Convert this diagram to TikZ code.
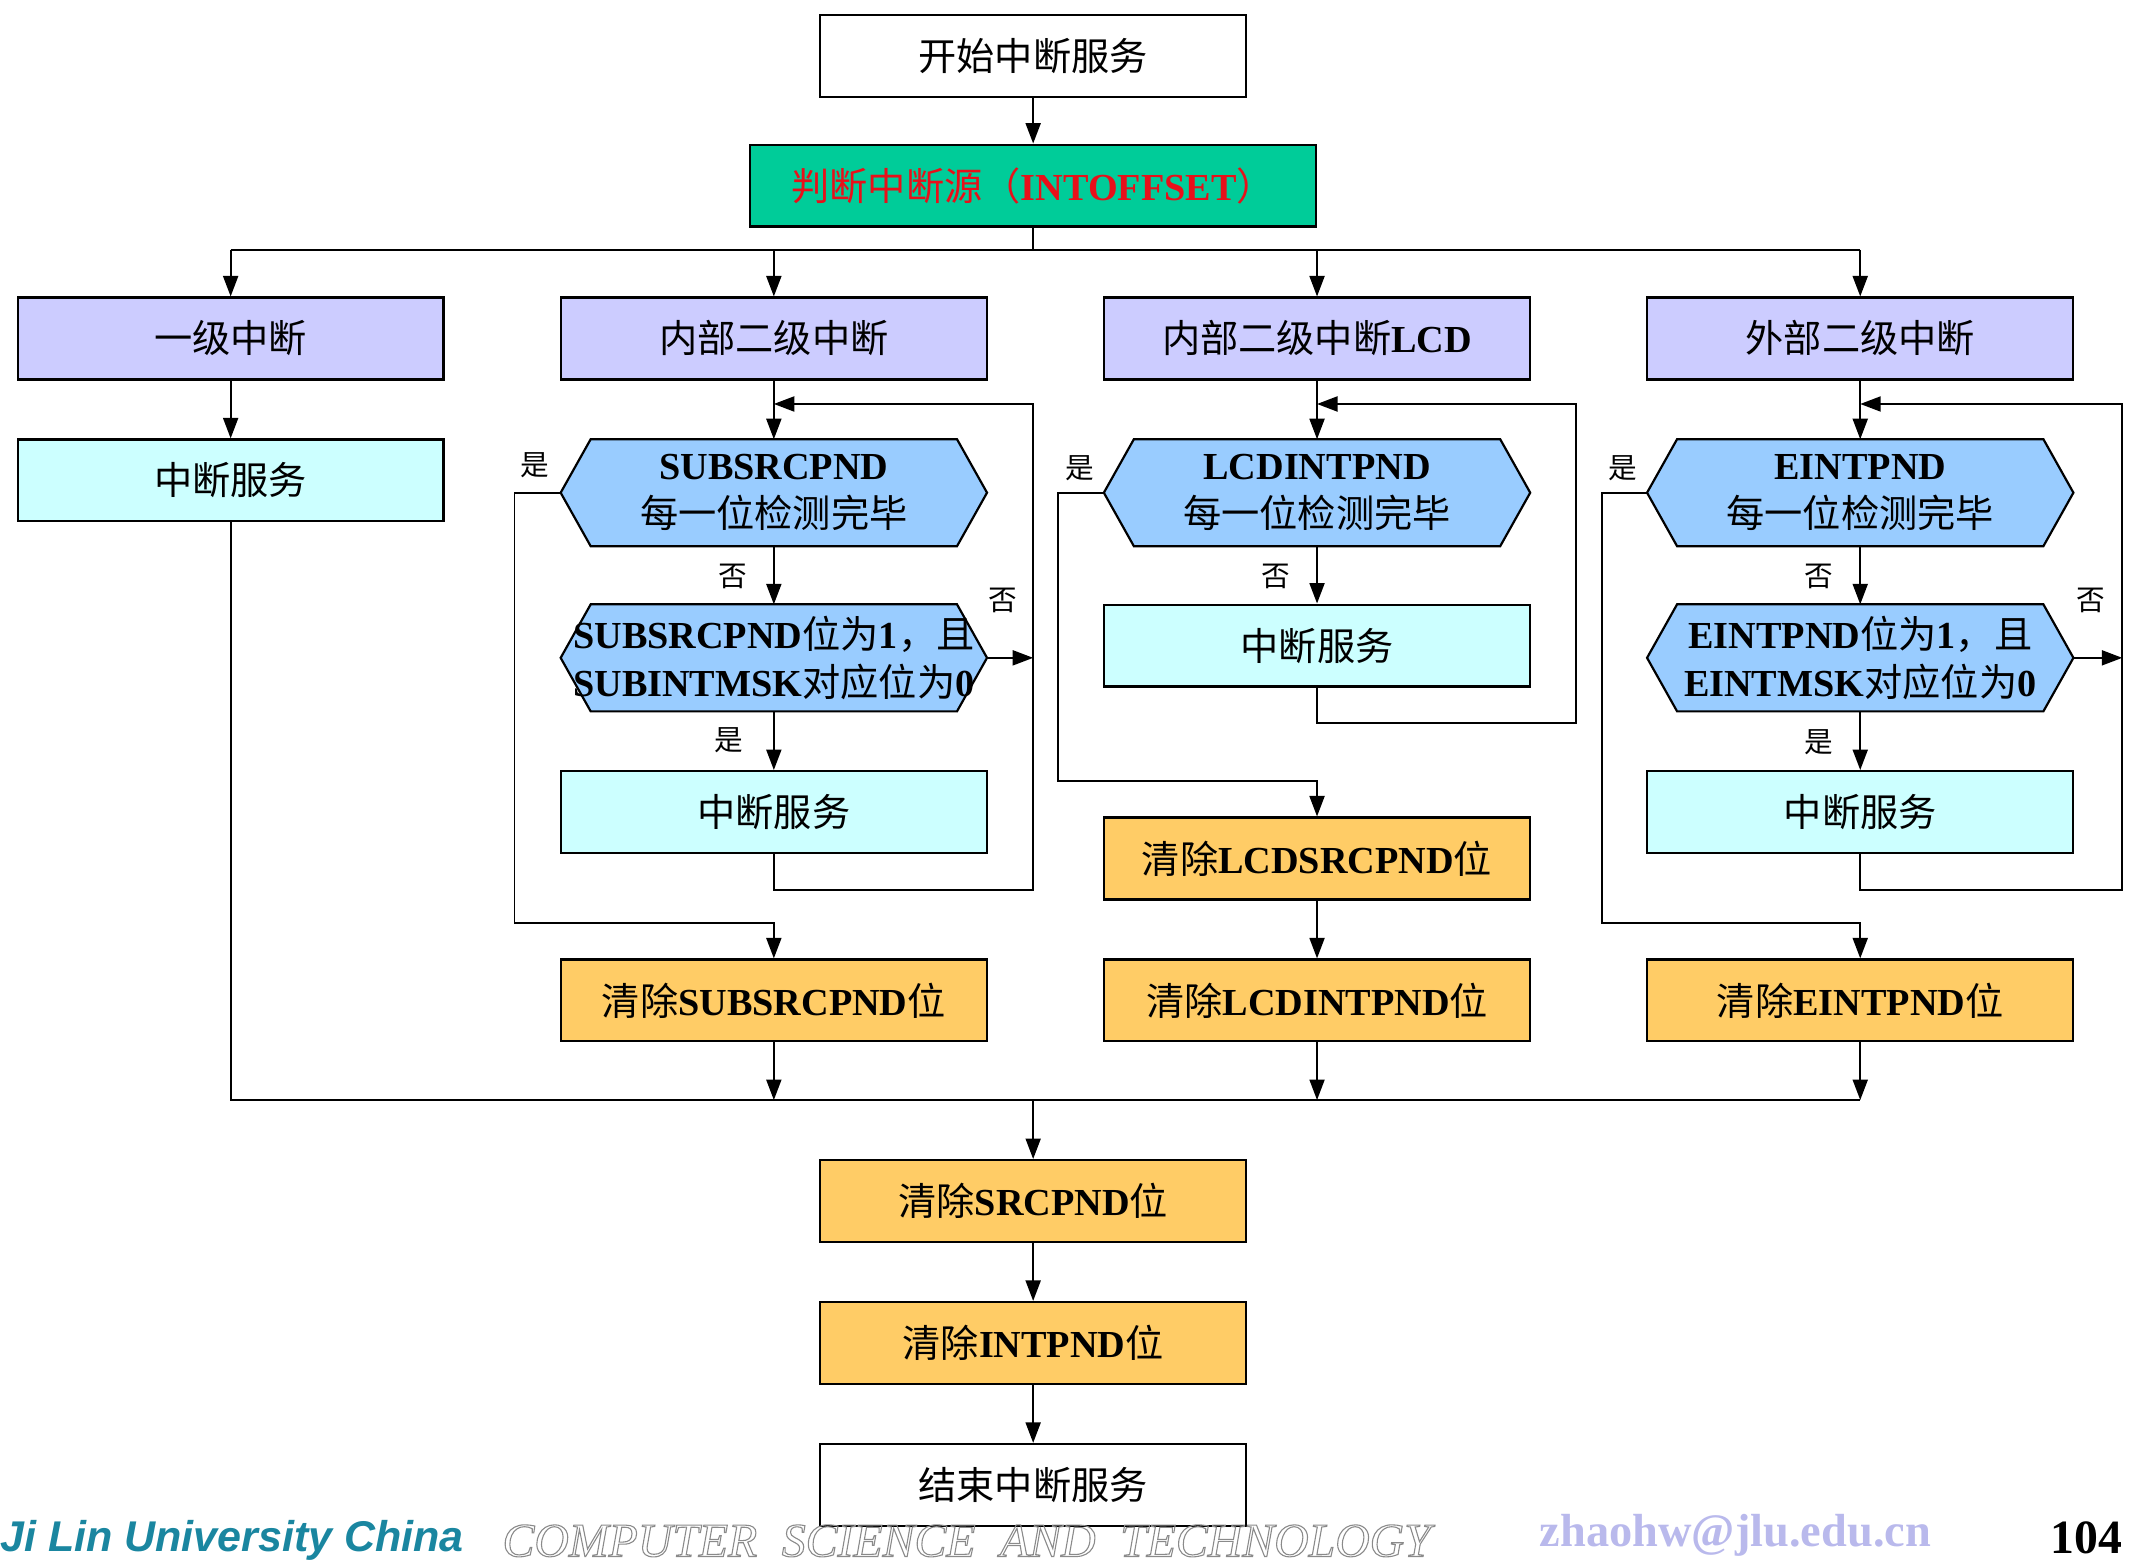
\documentclass[tikz,border=0pt]{standalone}
\usepackage{fontspec}
\setmainfont{Liberation Serif}
\newfontfamily\cjk{Noto Sans CJK SC}
\newfontfamily\sansf{Liberation Sans}
\usetikzlibrary{arrows.meta,backgrounds}
\definecolor{boxgreen}{HTML}{00CC99}
\definecolor{lav}{HTML}{CCCCFF}
\definecolor{lcyan}{HTML}{CCFFFF}
\definecolor{orng}{HTML}{FFCC66}
\definecolor{hexblue}{HTML}{99CCFF}
\definecolor{redtxt}{HTML}{E8101A}
\definecolor{footteal}{HTML}{1A86A0}
\definecolor{footlav}{HTML}{B9B9EC}
\definecolor{footgray}{HTML}{8A8A8A}
\newcommand\en[1]{{\rmfamily\bfseries #1}}
\begin{document}
\begin{tikzpicture}[x=1pt,y=-1pt,
  box/.style={draw=black, line width=1.6pt, minimum width=312pt, minimum height=60pt,
    inner sep=0pt, align=center, font=\cjk\fontsize{28}{35}\selectfont},
  wbox/.style={box, fill=white},
  gbox/.style={box, fill=boxgreen, minimum width=415pt, text=redtxt},
  pbox/.style={box, fill=lav},
  cbox/.style={box, fill=lcyan},
  obox/.style={box, fill=orng},
  hexnode/.style={minimum width=312pt, minimum height=78pt, inner sep=0pt, align=center,
    font=\cjk\fontsize{28}{35}\selectfont},
  hexst/.style={draw=black, line width=1.6pt, fill=hexblue},
  conn/.style={line width=1.4pt},
  arr/.style={conn, -{Triangle[length=15pt,width=11pt]}},
  lab/.style={font=\cjk\fontsize{21}{21}\selectfont, inner sep=0pt}]
\useasboundingbox (0,0) rectangle (1568,1146);

% top
\node[wbox] (start) at (757,41) {开始中断服务};
\node[gbox] (src) at (757,136) {判断中断源（\en{INTOFFSET}）};

% row of interrupt classes
\node[pbox] (p1) at (169,248) {一级中断};
\node[pbox] (p2) at (567,248) {内部二级中断};
\node[pbox] (p3) at (965,248) {内部二级中断\en{LCD}};
\node[pbox] (p4) at (1363,248) {外部二级中断};

% column 1
\node[cbox] (s1) at (169,352) {中断服务};

% column 2
\node[hexnode] (h21) at (567,361) {\en{SUBSRCPND}\\每一位检测完毕};
\node[hexnode] (h22) at (567,482) {\en{SUBSRCPND}位为\en{1}，且\\\en{SUBINTMSK}对应位为\en{0}};
\node[cbox] (s2) at (567,595) {中断服务};
\node[obox] (c2) at (567,733) {清除\en{SUBSRCPND}位};

% column 3
\node[hexnode] (h31) at (965,361) {\en{LCDINTPND}\\每一位检测完毕};
\node[cbox] (s3) at (965,473) {中断服务};
\node[obox] (c31) at (965,629) {清除\en{LCDSRCPND}位};
\node[obox] (c32) at (965,733) {清除\en{LCDINTPND}位};

% column 4
\node[hexnode] (h41) at (1363,361) {\en{EINTPND}\\每一位检测完毕};
\node[hexnode] (h42) at (1363,482) {\en{EINTPND}位为\en{1}，且\\\en{EINTMSK}对应位为\en{0}};
\node[cbox] (s4) at (1363,595) {中断服务};
\node[obox] (c4) at (1363,733) {清除\en{EINTPND}位};

% bottom
\node[obox] (csrc) at (757,880) {清除\en{SRCPND}位};
\node[obox] (cint) at (757,984) {清除\en{INTPND}位};
\node[wbox] (stop) at (757,1088) {结束中断服务};

% hexagon outlines
\begin{scope}[on background layer]
\foreach \n in {h21,h22,h31,h41,h42}
  \draw[hexst] (\n.west) -- ([xshift=22pt]\n.north west) -- ([xshift=-22pt]\n.north east)
    -- (\n.east) -- ([xshift=-22pt]\n.south east) -- ([xshift=22pt]\n.south west) -- cycle;
\end{scope}

% labels
\node[lab] (l1) at (392,341) {是};
\node[lab] (l2) at (537,422) {否};
\node[lab] (l3) at (735,440) {否};
\node[lab] (l4) at (534,542) {是};
\node[lab] (l5) at (791,343) {是};
\node[lab] (l6) at (935,422) {否};
\node[lab] (l7) at (1189,343) {是};
\node[lab] (l8) at (1333,422) {否};
\node[lab] (l9) at (1532,440) {否};
\node[lab] (l10) at (1333,544) {是};

% coordinates
\coordinate (bus) at (757,183);
\coordinate (bot) at (757,806);
\coordinate (r2) at (757,296);
\coordinate (y2) at (377,676);
\coordinate (r3) at (1155,296);
\coordinate (y3) at (775,572);
\coordinate (r4) at (1555,296);
\coordinate (y4) at (1174,676);

% connectors: top
\draw[arr] (start) -- (src);
\draw[conn] (src.south) -- (bus);
\draw[conn] (p1.north |- bus) -- (p4.north |- bus);
\foreach \n in {p1,p2,p3,p4}
  \draw[arr] (\n.north |- bus) -- (\n.north);

% column 1
\draw[arr] (p1) -- (s1);

% column 2
\draw[arr] (p2) -- (h21);
\draw[arr] (h21) -- (h22);
\draw[arr] (h22) -- (s2);
\draw[arr] (h22.east) -- (r2 |- h22.east);
\draw[arr] (s2.south) -- ++(0,26) -| (r2) -- (h21.north |- r2);
\draw[arr] (h21.west) -| (y2) -| (c2.north);

% column 3
\draw[arr] (p3) -- (h31);
\draw[arr] (h31) -- (s3);
\draw[arr] (s3.south) -- ++(0,26) -| (r3) -- (h31.north |- r3);
\draw[arr] (h31.west) -| (y3) -| (c31.north);
\draw[arr] (c31) -- (c32);

% column 4
\draw[arr] (p4) -- (h41);
\draw[arr] (h41) -- (h42);
\draw[arr] (h42) -- (s4);
\draw[arr] (h42.east) -- (r4 |- h42.east);
\draw[arr] (s4.south) -- ++(0,26) -| (r4) -- (h41.north |- r4);
\draw[arr] (h41.west) -| (y4) -| (c4.north);

% bottom merge
\draw[conn] (s1.south) |- (c4.south |- bot);
\draw[arr] (c2) -- (c2 |- bot);
\draw[arr] (c32) -- (c32 |- bot);
\draw[arr] (c4) -- (c4 |- bot);
\draw[arr] (bot) -- (csrc);
\draw[arr] (csrc) -- (cint);
\draw[arr] (cint) -- (stop);

% footer
\node[anchor=west, inner sep=0pt, text=footteal,
  font=\sansf\bfseries\itshape\fontsize{31.5}{31.5}\selectfont] (f1) at (0,1129) {Ji Lin University China};
\node[anchor=west, inner sep=0pt, text=footgray,
  font=\rmfamily\itshape\fontsize{35}{35}\selectfont] (f2) at (368,1129)
  {\special{pdf:code 1 Tr 0.8 w}COMPUTER\hspace{18pt}SCIENCE\hspace{18pt}AND\hspace{18pt}TECHNOLOGY\special{pdf:code 0 Tr}};
\node[anchor=west, inner sep=0pt, text=footlav,
  font=\rmfamily\bfseries\fontsize{34}{34}\selectfont] (f3) at (1128,1125) {zhaohw@jlu.edu.cn};
\node[anchor=east, inner sep=0pt, text=black,
  font=\rmfamily\bfseries\fontsize{35}{35}\selectfont] (f4) at (1555,1127) {104};
\end{tikzpicture}
\end{document}
